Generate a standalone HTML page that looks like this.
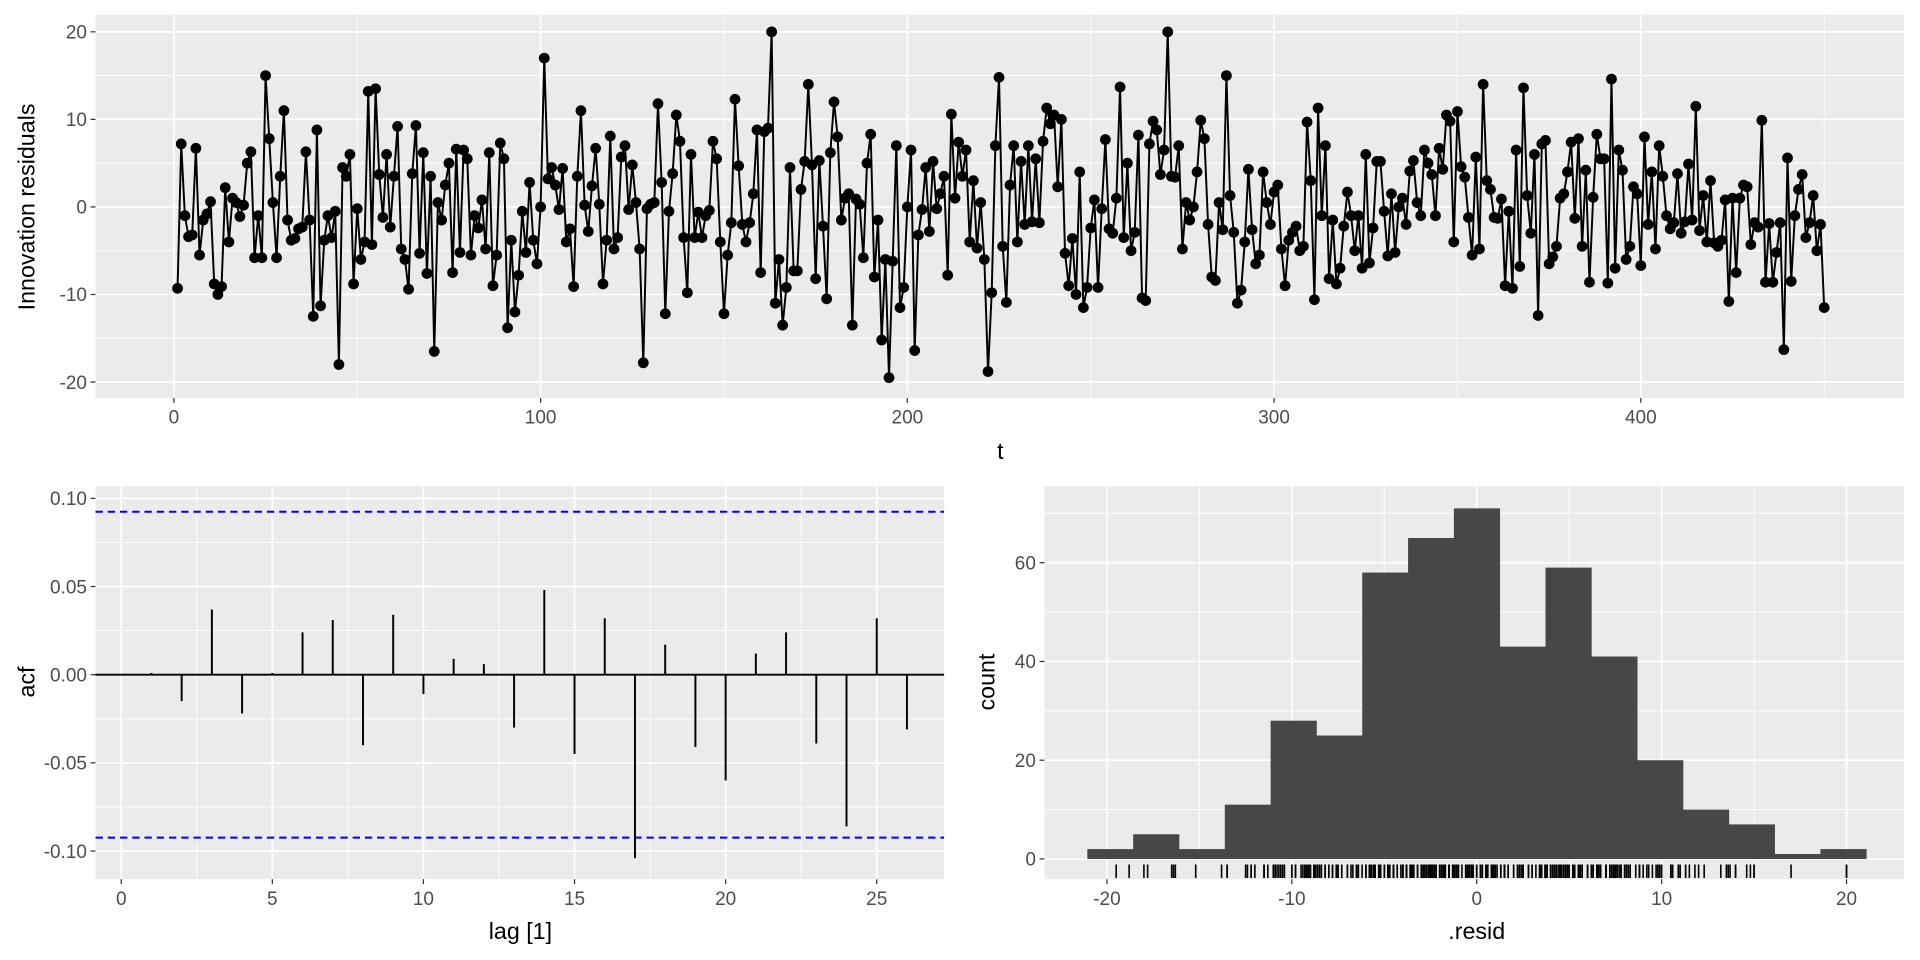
<!DOCTYPE html>
<html><head><meta charset="utf-8"><style>
html,body{margin:0;padding:0;background:#fff;}
svg{display:block;font-family:"Liberation Sans",Arial,sans-serif;}
.tick{fill:#4d4d4d;font-size:15.5px;}
.title{fill:#000;font-size:19px;}
</style></head><body>
<svg id="fig" width="1920" height="960" viewBox="0 0 1568 784" xmlns="http://www.w3.org/2000/svg">
<g id="topPanel"></g>
<g id="acfPanel"></g>
<g id="histPanel"></g>
<text class="title" transform="translate(28,169) rotate(-90)" text-anchor="middle">Innovation residuals</text>
<text class="title" x="817" y="375" text-anchor="middle">t</text>
<text class="title" transform="translate(28,557) rotate(-90)" text-anchor="middle">acf</text>
<text class="title" x="425" y="767" text-anchor="middle">lag [1]</text>
<text class="title" transform="translate(812,557) rotate(-90)" text-anchor="middle">count</text>
<text class="title" x="1206" y="767" text-anchor="middle">.resid</text>
</svg>
<script>
const resid = [
-9.3,7.2,-1,-3.4,-3.2,6.7,-5.5,-1.5,-0.8,0.6,
-8.8,-10,-9.1,2.2,-4,1,0.5,-1.1,0.2,5,
6.3,-5.8,-1,-5.8,15,7.8,0.5,-5.8,3.5,11,
-1.5,-3.8,-3.6,-2.5,-2.3,6.3,-1.5,-12.5,8.8,-11.3,
-3.8,-1,-3.5,-0.5,-18,4.5,3.5,6,-8.8,-0.2,
-6,-4,13.2,-4.3,13.5,3.7,-1.2,6,-2.3,3.5,
9.2,-4.8,-6,-9.4,3.8,9.3,-5.3,6.2,-7.6,3.5,
-16.5,0.5,-1.5,2.5,5,-7.5,6.6,-5.2,6.5,5.5,
-5.5,-1,-2.4,0.8,-4.8,6.2,-9,-5.5,7.3,5.5,
-13.8,-3.8,-12,-7.8,-0.5,-5.2,2.8,-3.8,-6.5,0,
17,3.2,4.5,2.5,-0.3,4.4,-4,-2.5,-9.1,3.5,
11,0.2,-2.8,2.4,6.7,0.3,-8.8,-3.8,8.1,-4.8,
-3.5,5.7,7,-0.3,4.8,0.5,-4.8,-17.8,-0.2,0.3,
0.5,11.8,2.8,-12.2,-0.5,3.8,10.5,7.5,-3.5,-9.8,
6,-3.5,-0.6,-3.5,-1,-0.4,7.5,5.5,-4,-12.2,
-5.5,-1.8,12.3,4.7,-2,-4,-1.8,1.5,8.8,-7.5,
8.6,9,20,-11,-6,-13.5,-9.2,4.5,-7.3,-7.3,
2,5.2,14,4.8,-8.2,5.3,-2.2,-10.5,6.2,12,
8,-1.5,1,1.5,-13.5,0.9,0.3,-5.8,5,8.3,
-8,-1.5,-15.2,-6,-19.5,-6.2,7,-11.5,-9.2,0,
6.5,-16.4,-3.2,-0.3,4.5,-2.8,5.2,-0.2,1.5,3.5,
-7.8,10.6,1,7.4,3.5,6.5,-4,3,-4.7,0.5,
-6,-18.8,-9.8,7,14.8,-4.5,-10.9,2.5,7,-4,
5.2,-2,7,-1.7,5.5,-1.8,7.5,11.3,9.5,10.5,
2.3,10,-5.3,-9,-3.6,-10,4,-11.5,-9.2,-2.4,
0.8,-9.2,-0.2,7.7,-2.5,-3,1,13.7,-3.5,5,
-5,-2.9,8.2,-10.4,-10.7,7.2,9.8,8.8,3.7,6.5,
20,3.5,3.4,7,-4.8,0.5,-1.5,0,4,9.9,
7.8,-2,-8,-8.4,0.5,-2.6,15,1.3,-2.9,-11,
-9.5,-4,4.3,-2.6,-6.5,-5.5,4,0.5,-2,1.7,
2.5,-4.8,-9,-3.8,-2.9,-2.2,-5,-4.5,9.7,3,
-10.6,11.3,-1,7,-8.2,-1.5,-8.8,-7,-2.2,1.7,
-1,-5,-1,-7,6,-6.4,-2.4,5.2,5.2,-0.5,
-5.6,1.5,-5.2,0,1,-2,4.1,5.3,0.5,-1,
6.5,5,3.7,-1,6.7,4.3,10.5,9.8,-4,10.9,
4.6,3.4,-1.2,-5.5,5.7,-4.8,14,3,2,-1.2,
-1.3,0.9,-9,-0.5,-9.3,6.5,-6.8,13.6,1.3,-3,
6,-12.4,7.2,7.6,-6.5,-5.7,-4.5,1,1.5,4,
7.4,-1.3,7.8,-4.5,4.2,-8.6,1.1,8.3,5.5,5.5,
-8.7,14.6,-7,6.5,4.2,-6,-4.5,2.3,1.5,-6.7,
8,-2,4,-4.8,7,3.5,-1,-2.5,-1.8,3.8,
-3,-1.7,4.9,-1.5,11.5,-2.7,1.3,-4,3,-4.1,
-4.5,-3.8,0.8,-10.8,1,-7.5,1,2.5,2.3,-4.3,
-1.8,-2.3,9.9,-8.6,-1.9,-8.6,-5.2,-1.8,-16.3,5.6,
-8.5,-1,2,3.7,-3.5,-1.8,1.3,-5,-2,-11.5
];
const topXTicks = [0,100,200,300,400];
const topYTicks = [-20,-10,0,10,20];
const acfLags = [1,2,3,4,5,6,7,8,9,10,11,12,13,14,15,16,17,18,19,20,21,22,23,24,25,26];
const acfValues = [0.001,-0.015,0.037,-0.022,0.001,0.024,0.031,-0.040,0.034,-0.011,0.009,0.006,-0.030,0.048,-0.045,0.032,-0.104,0.017,-0.041,-0.060,0.012,0.024,-0.039,-0.086,0.032,-0.031];
const acfBound = [0.0924];
const acfXTicks = [0,5,10,15,20,25];
const acfYTicks = [-0.10,-0.05,0.00,0.05,0.10];
const acfYLabels = ["-0.10","-0.05","0.00","0.05","0.10"];
const binStart = [-21.06];
const binWidth = [2.478];
const binCounts = [2,5,2,11,28,25,58,65,71,43,59,41,20,10,7,1,2];
const histXTicks = [-20,-10,0,10,20];
const histYTicks = [0,20,40,60];

const NS="http://www.w3.org/2000/svg";
function mk(parent,tag,attrs){const e=document.createElementNS(NS,tag);for(const k in attrs)e.setAttribute(k,attrs[k]);parent.appendChild(e);return e;}

// ---------- top panel ----------
const gTop=document.getElementById('topPanel');
const T={l:78,r:1555,t:12,b:325};
const tx=v=>142+2.995*v, ty=v=>169-7.15*v;
let bg=mk(gTop,'rect',{x:T.l,y:T.t,width:T.r-T.l,height:T.b-T.t,fill:'#ebebeb'});


[-50,50,150,250,350,450].forEach(v=>mk(gTop,'line',{x1:tx(v),x2:tx(v),y1:T.t,y2:T.b,stroke:'#fff','stroke-width':0.7}));
[-15,-5,5,15].forEach(v=>mk(gTop,'line',{x1:T.l,x2:T.r,y1:ty(v),y2:ty(v),stroke:'#fff','stroke-width':0.7}));
topXTicks.forEach(v=>{
 mk(gTop,'line',{x1:tx(v),x2:tx(v),y1:T.t,y2:T.b,stroke:'#fff','stroke-width':1.4});
 mk(gTop,'line',{x1:tx(v),x2:tx(v),y1:T.b,y2:T.b+4,stroke:'#333','stroke-width':1});
 const t=mk(gTop,'text',{x:tx(v),y:T.b+21,'text-anchor':'middle',class:'tick'});t.textContent=v;
 
 
});
topYTicks.forEach(v=>{
 mk(gTop,'line',{x1:T.l,x2:T.r,y1:ty(v),y2:ty(v),stroke:'#fff','stroke-width':1.4});
 mk(gTop,'line',{x1:T.l-4,x2:T.l,y1:ty(v),y2:ty(v),stroke:'#333','stroke-width':1});
 const t=mk(gTop,'text',{x:T.l-7,y:ty(v)+5.5,'text-anchor':'end',class:'tick'});t.textContent=v;
 
 
});
const pts=resid.map((v,i)=>tx(i+1).toFixed(2)+','+ty(v).toFixed(2)).join(' ');
const residLine=mk(gTop,'polyline',{points:pts,fill:'none',stroke:'#000','stroke-width':1.6,'stroke-linejoin':'round'});


resid.forEach((v,i)=>{
 const c=mk(gTop,'circle',{cx:tx(i+1),cy:ty(v),r:4.4,fill:'#000'});
 
 
});

// ---------- ACF panel ----------
const gAcf=document.getElementById('acfPanel');
const A={l:78,r:771,t:397,b:718};
const ax=v=>99+24.68*v, ay=v=>551-1440*v;
bg=mk(gAcf,'rect',{x:A.l,y:A.t,width:A.r-A.l,height:A.b-A.t,fill:'#ebebeb'});


[2.5,7.5,12.5,17.5,22.5].forEach(v=>mk(gAcf,'line',{x1:ax(v),x2:ax(v),y1:A.t,y2:A.b,stroke:'#fff','stroke-width':0.7}));
[-0.075,-0.025,0.025,0.075].forEach(v=>mk(gAcf,'line',{x1:A.l,x2:A.r,y1:ay(v),y2:ay(v),stroke:'#fff','stroke-width':0.7}));
acfXTicks.forEach(v=>{
 mk(gAcf,'line',{x1:ax(v),x2:ax(v),y1:A.t,y2:A.b,stroke:'#fff','stroke-width':1.4});
 mk(gAcf,'line',{x1:ax(v),x2:ax(v),y1:A.b,y2:A.b+4,stroke:'#333','stroke-width':1});
 const t=mk(gAcf,'text',{x:ax(v),y:A.b+21,'text-anchor':'middle',class:'tick'});t.textContent=v;
 
 
});
acfYTicks.forEach((v,i)=>{
 mk(gAcf,'line',{x1:A.l,x2:A.r,y1:ay(v),y2:ay(v),stroke:'#fff','stroke-width':1.4});
 mk(gAcf,'line',{x1:A.l-4,x2:A.l,y1:ay(v),y2:ay(v),stroke:'#333','stroke-width':1});
 const t=mk(gAcf,'text',{x:A.l-7,y:ay(v)+5.5,'text-anchor':'end',class:'tick'});t.textContent=acfYLabels[i];
 
 
});
const zl=mk(gAcf,'line',{x1:A.l,x2:A.r,y1:ay(0),y2:ay(0),stroke:'#000','stroke-width':1.6});


[acfBound[0],-acfBound[0]].forEach(v=>{
 const d=mk(gAcf,'line',{x1:A.l,x2:A.r,y1:ay(v),y2:ay(v),stroke:'#0000ff','stroke-width':1.6,'stroke-dasharray':'6,4'});
 
 
});
acfLags.forEach((l,i)=>{
 const s=mk(gAcf,'line',{x1:ax(l),x2:ax(l),y1:ay(0),y2:ay(acfValues[i]),stroke:'#000','stroke-width':1.6});
 
 
});

// ---------- histogram ----------
const gHist=document.getElementById('histPanel');
const H={l:853,r:1555,t:397,b:718};
const hx=v=>1206+15.1*v, hy=v=>701.5-4.033*v;
bg=mk(gHist,'rect',{x:H.l,y:H.t,width:H.r-H.l,height:H.b-H.t,fill:'#ebebeb'});


[-15,-5,5,15].forEach(v=>mk(gHist,'line',{x1:hx(v),x2:hx(v),y1:H.t,y2:H.b,stroke:'#fff','stroke-width':0.7}));
[10,30,50,70].forEach(v=>mk(gHist,'line',{x1:H.l,x2:H.r,y1:hy(v),y2:hy(v),stroke:'#fff','stroke-width':0.7}));
histXTicks.forEach(v=>{
 mk(gHist,'line',{x1:hx(v),x2:hx(v),y1:H.t,y2:H.b,stroke:'#fff','stroke-width':1.4});
 mk(gHist,'line',{x1:hx(v),x2:hx(v),y1:H.b,y2:H.b+4,stroke:'#333','stroke-width':1});
 const t=mk(gHist,'text',{x:hx(v),y:H.b+21,'text-anchor':'middle',class:'tick'});t.textContent=v;
 
 
});
histYTicks.forEach(v=>{
 mk(gHist,'line',{x1:H.l,x2:H.r,y1:hy(v),y2:hy(v),stroke:'#fff','stroke-width':1.4});
 mk(gHist,'line',{x1:H.l-4,x2:H.l,y1:hy(v),y2:hy(v),stroke:'#333','stroke-width':1});
 const t=mk(gHist,'text',{x:H.l-7,y:hy(v)+5.5,'text-anchor':'end',class:'tick'});t.textContent=v;
 
 
});
binCounts.forEach((c,i)=>{
 const x0=hx(binStart[0]+i*binWidth[0]), x1=hx(binStart[0]+(i+1)*binWidth[0]);
 const r=mk(gHist,'rect',{x:x0,y:hy(c),width:x1-x0+0.3,height:hy(0)-hy(c),fill:'#474747'});
 
 
});
resid.forEach(v=>{
 const r=mk(gHist,'line',{x1:hx(v),x2:hx(v),y1:706,y2:717,stroke:'#000','stroke-width':1.3});
 
 
});
</script>
</body></html>
